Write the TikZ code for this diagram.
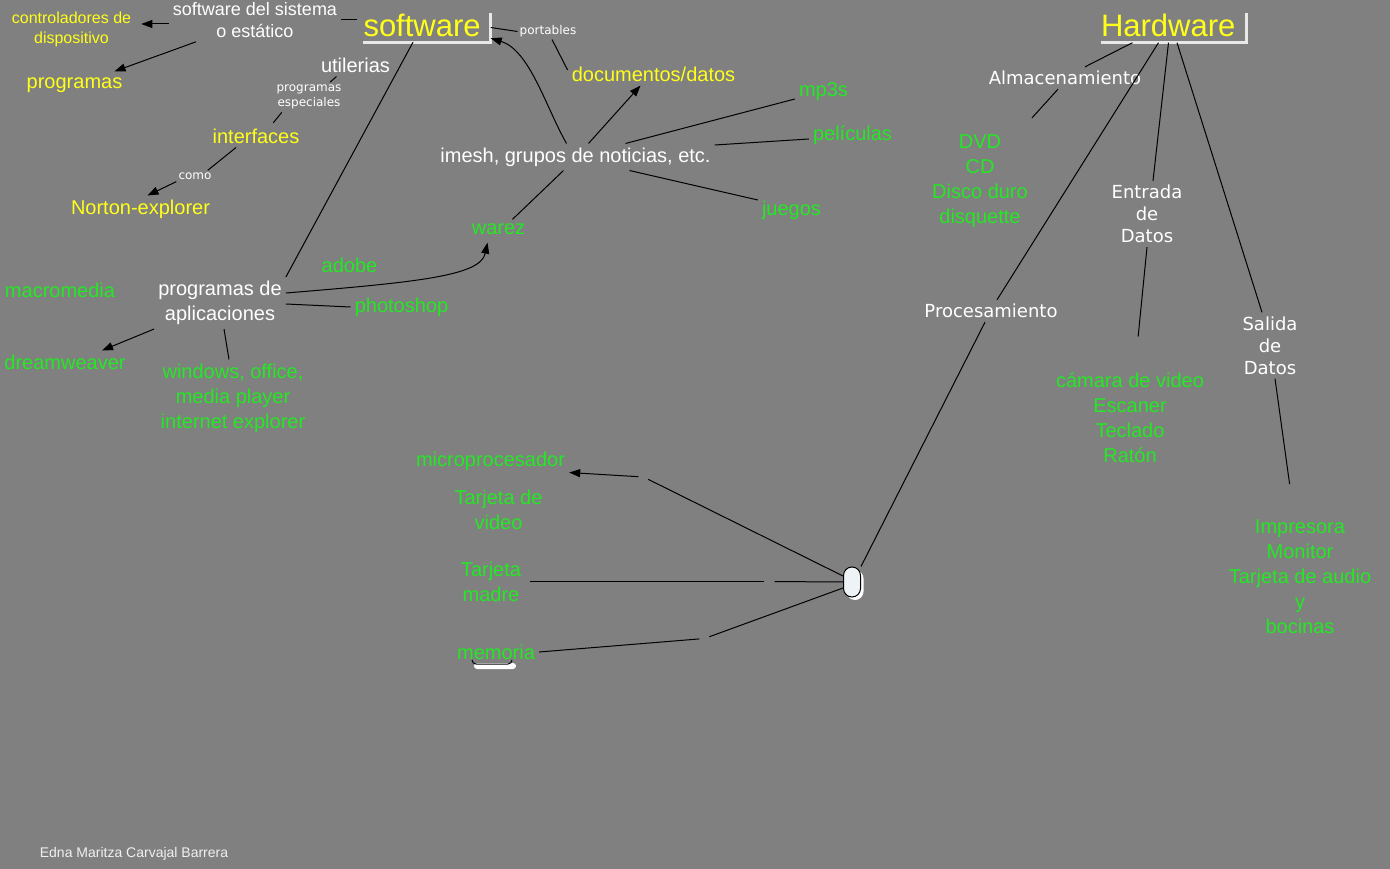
\documentclass[tikz,border=0pt]{standalone}
\usepackage{fontspec}
\setmainfont{Liberation Sans}
\newfontfamily\dejavu{DejaVu Sans}
\usetikzlibrary{arrows.meta,shadows}
\definecolor{cmbg}{HTML}{808080}
\definecolor{cmyellow}{HTML}{FFFF1A}
\definecolor{cmgreen}{HTML}{24E824}
\definecolor{cmframe}{HTML}{E8E8E8}
\definecolor{cmcap}{HTML}{EEF3F6}
\definecolor{cmauthor}{HTML}{F0F0F0}

\begin{document}
\begin{tikzpicture}[x=1pt,y=-1pt,
    txt/.style={inner sep=4pt,align=center,font=\fontsize{20pt}{25pt}\selectfont},
    ylw/.style={txt,text=cmyellow},
    grn/.style={txt,text=cmgreen},
    wht/.style={txt,text=white},
    lbl/.style={inner sep=4pt,align=center,text=white,font=\dejavu\fontsize{18pt}{22pt}\selectfont},
    minor/.style={inner sep=2pt,align=center,text=white,font=\dejavu\fontsize{12pt}{15pt}\selectfont},
    headline/.style={text=cmyellow,font=\fontsize{31pt}{31pt}\selectfont,align=left,
      inner xsep=0pt,inner ysep=0.5pt,text height=23pt,text depth=5pt},
    brkt/.style={draw=cmframe,line width=3pt},
    ln/.style={draw=black,line width=1pt},
    arr/.style={ln,-{Triangle[length=11pt,width=8pt]}},
    link/.style={circle,inner sep=3.5pt},
    capsule/.style={draw=black,line width=1pt,fill=cmcap,rounded corners=8.5pt,
      minimum width=17pt,minimum height=30pt,inner sep=0pt,
      drop shadow={shadow xshift=3pt,shadow yshift=-3pt,fill=white,opacity=1}}]
  \fill[cmbg] (0,0) rectangle (1390,869);
  \useasboundingbox (0,0) rectangle (1390,869);

  % software
  \node[headline,text width=127pt] (sw) at (427,27.5) {software};
  \draw[brkt] (sw.south west) -- (sw.south east) -- (sw.north east);
  \node[wht,font=\fontsize{18pt}{22pt}\selectfont] (swsis) at (255,20) {software del sistema\\o estático};
  \node[ylw,font=\fontsize{16pt}{20pt}\selectfont] (ctrl) at (71.5,29) {controladores de\\dispositivo};
  \node[ylw] (prog) at (74.5,85) {programas};
  \node[wht] (util) at (355.5,65) {utilerias};
  \node[minor] (esp) at (309,96.5) {programas\\especiales};
  \node[ylw] (intf) at (256,136) {interfaces};
  \node[minor] (como) at (195,176) {como};
  \node[ylw] (norton) at (140.5,209) {Norton-explorer};
  \node[minor] (port) at (548,31.5) {portables};
  \node[ylw] (docs) at (653.5,74) {documentos/datos};
  \node[wht] (imesh) at (575.5,157) {imesh, grupos de noticias, etc.};
  \node[grn] (mp3) at (823.5,92) {mp3s};
  \node[grn] (peli) at (852.5,135) {películas};
  \node[grn] (juegos) at (791.5,210) {juegos};
  \node[grn] (warez) at (498.5,229) {warez};
  \node[wht] (apl) at (220,303) {programas de\\aplicaciones};
  \node[grn] (adobe) at (349.5,265) {adobe};
  \node[grn] (photo) at (401.5,307) {photoshop};
  \node[grn] (macro) at (60,290) {macromedia};
  \node[grn] (dream) at (65,362) {dreamweaver};
  \node[grn] (win) at (233,398) {windows, office,\\media player\\internet explorer};

  \draw[ln,shorten >=6pt] (swsis.east) -- (swsis.east -| sw.west);
  \draw[arr] ([yshift=-4pt]swsis.west) -- ([shift={(6,-5)}]ctrl.east);
  \draw[arr] ([xshift=-59pt]swsis.south) -- ([shift={(-12,-2)}]prog.north east);
  \draw[ln] ([xshift=-14pt]sw.south) -- (apl.north east);
  \draw[ln] ([xshift=-19pt]util.south) -- ([xshift=21pt]esp.north);
  \draw[ln,shorten <=2pt,shorten >=2pt] ([xshift=-26pt]esp.south) -- ([xshift=16pt]intf.north);
  \draw[ln] ([xshift=-20pt]intf.south) -- ([xshift=-6pt]como.north east);
  \draw[arr] (como.south west) -- ([xshift=7pt]norton.north);
  \draw[ln] (sw.east) -- (port.west);
  \draw[ln] ([xshift=4pt]port.south) -- ([yshift=4pt]docs.west);
  \draw[arr] ([xshift=-9pt]imesh.north) .. controls +(-21,-37) and +(39,12) .. ([yshift=4pt]sw.south east);
  \draw[arr] ([xshift=13pt]imesh.north) -- ([xshift=-13pt]docs.south);
  \draw[ln] ([xshift=50pt]imesh.north) -- ([yshift=-7pt]mp3.west);
  \draw[ln] ([yshift=12pt]imesh.east) -- ([yshift=-4pt]peli.west);
  \draw[ln] ([xshift=54pt]imesh.south) -- ([yshift=10pt]juegos.west);
  \draw[ln] ([xshift=-12pt]imesh.south) -- ([xshift=14pt]warez.north);
  \draw[arr] ([yshift=10pt]apl.east) .. controls +(134,-11) and +(-7,33) .. ([shift={(-11,4)}]warez.south);
  \draw[ln] ([yshift=-1pt]apl.east) -- (photo.west);
  \draw[arr] (apl.south west) -- ([xshift=37pt]dream.north);
  \draw[ln] ([xshift=4pt]apl.south) -- ([xshift=-4pt]win.north);

  % hardware
  \node[headline,text width=145pt] (hw) at (1173.5,28) {Hardware};
  \draw[brkt] (hw.south west) -- (hw.south east) -- (hw.north east);
  \node[lbl] (alm) at (1065,78) {Almacenamiento};
  \node[grn] (stor) at (980,181.5) {DVD\\CD\\Disco duro\\disquette};
  \node[lbl] (proc) at (991,311) {Procesamiento};
  \node[lbl] (ent) at (1147,214) {Entrada\\de\\Datos};
  \node[grn] (inp) at (1130,417.5) {cámara de video\\Escaner\\Teclado\\Ratón};
  \node[lbl] (sal) at (1270,345.5) {Salida\\de\\Datos};
  \node[grn] (outp) at (1300,577) {Impresora\\Monitor\\Tarjeta de audio\\y\\bocinas};

  \draw[ln] ([xshift=-41pt]hw.south) -- ([xshift=20pt]alm.north);
  \draw[ln] ([xshift=-7pt]alm.south) -- ([yshift=13pt]stor.north east);
  \draw[ln] ([xshift=-15pt]hw.south) -- ([xshift=6pt]proc.north);
  \draw[ln] ([xshift=-5pt]hw.south) -- ([xshift=6pt]ent.north);
  \draw[ln,shorten >=32pt] (ent.south) -- ([xshift=5pt]inp.north);
  \draw[ln] ([xshift=3.5pt]hw.south) -- ([xshift=-8pt]sal.north);
  \draw[ln,shorten >=32pt] ([xshift=5pt]sal.south) -- ([xshift=-6pt]outp.north);

  % procesamiento
  \node[capsule] (cpu) at (852,582) {};
  \node[grn] (micro) at (490.5,461) {microprocesador};
  \node[grn] (tvid) at (498.5,509.5) {Tarjeta de\\video};
  \node[grn] (tmad) at (491,581.5) {Tarjeta\\madre};
  \fill[white,rounded corners=3pt] (474,663) rectangle (516,669);
  \draw[ln] (472,660) to[out=-90,in=180] (476,664) -- (508,664) to[out=0,in=-90] (512,660);
  \node[grn] (mem) at (496,652) {memoria};
  \node[link] (lk1) at (643.5,477) {};
  \node[link] (lk2) at (769.5,581.5) {};
  \node[link] (lk3) at (704.5,638.5) {};

  \draw[ln] ([xshift=-6pt]proc.south) -- (cpu.north east);
  \draw[ln] ([yshift=6pt]cpu.west) -- (lk1);
  \draw[arr] (lk1) -- ([yshift=2pt]micro.south east);
  \draw[ln] (cpu.west) -- (lk2);
  \draw[ln,shorten >=5pt] (lk2) -- (tmad.east);
  \draw[ln] ([yshift=-6pt]cpu.west) -- (lk3);
  \draw[ln] (lk3) -- (mem.east);

  \node[text=cmauthor,inner sep=0pt,font=\fontsize{14pt}{16pt}\selectfont] (author) at (134,854) {Edna Maritza Carvajal Barrera};
\end{tikzpicture}
\end{document}
